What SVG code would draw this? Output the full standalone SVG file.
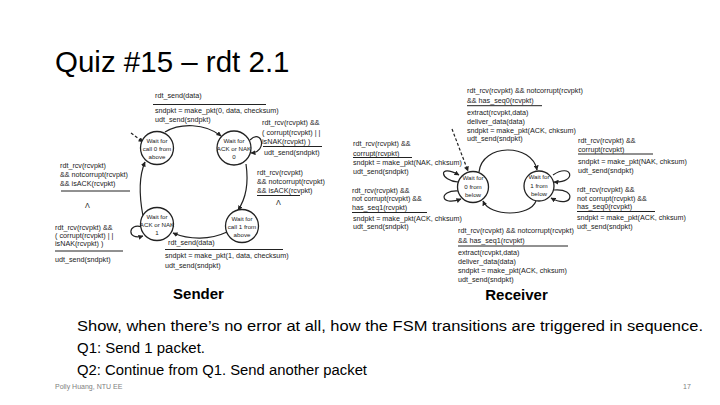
<svg xmlns="http://www.w3.org/2000/svg" width="720" height="405" viewBox="0 0 720 405">
<defs>
<marker id="ah" viewBox="0 0 10 10" refX="9" refY="5" markerWidth="5" markerHeight="5" orient="auto" markerUnits="userSpaceOnUse">
<path d="M0,0 L10,5 L0,10 z" fill="#222"/>
</marker>
</defs>
<style>
.t{font-family:"Liberation Sans",Arial,sans-serif;font-size:7.2px;fill:#1a1a1a}
.s{font-family:"Liberation Sans",Arial,sans-serif;font-size:6.2px;fill:#1a1a1a;text-anchor:middle}
.st{fill:#fff;stroke:#222;stroke-width:1.3}
.e{fill:none;stroke:#222;stroke-width:1.2}
.d{fill:none;stroke:#222;stroke-width:1.2;stroke-dasharray:3,2}
.u{stroke:#222;stroke-width:1}
.h{font-family:"Liberation Sans",Arial,sans-serif;font-weight:bold;font-size:15px;fill:#000;text-anchor:middle}
.b{font-family:"Liberation Sans",Arial,sans-serif;font-size:15.5px;fill:#000}
</style>
<rect width="720" height="405" fill="#fff"/>
<text x="55" y="72" font-family="Liberation Sans,Arial,sans-serif" font-size="29.5" fill="#000">Quiz #15 – rdt 2.1</text>

<g id="connectors">
<!-- sender -->
<path class="d" d="M131 133 L143 142" marker-end="url(#ah)"/>
<path class="e" d="M165 132 C180 123,205 123,221 136" marker-end="url(#ah)"/>
<path class="e" d="M246 164 C249 185,245 200,238 210" marker-end="url(#ah)"/>
<path class="e" d="M227 232 C210 240,190 240,173 233" marker-end="url(#ah)"/>
<path class="e" d="M143 216 C139 195,139 176,145 162" marker-end="url(#ah)"/>
<path class="e" d="M250 140 C262 128,268 152,251 153" marker-end="url(#ah)"/>
<path class="e" d="M142 227 C128 222,126 241,143 236" marker-end="url(#ah)"/>
<!-- receiver -->
<path class="d" d="M452 129 L468 171" marker-end="url(#ah)"/>
<path class="e" d="M479 172 C482 143,532 143,537 170" marker-end="url(#ah)"/>
<path class="e" d="M536 201 C530 217,490 217,483 201" marker-end="url(#ah)"/>
<path class="e" d="M458 182 C440 181,437 163,459 175" marker-end="url(#ah)"/>
<path class="e" d="M458 191 C438 190,440 207,461 199" marker-end="url(#ah)"/>
<path class="e" d="M553 175 C572 162,578 183,554 182" marker-end="url(#ah)"/>
<path class="e" d="M554 190 C578 188,573 210,551 198" marker-end="url(#ah)"/>
</g>

<g id="s-call0">
<circle class="st" cx="157" cy="148" r="16.5"/>
<text class="s" x="157" y="143">Wait for</text>
<text class="s" x="157" y="150.5">call 0 from</text>
<text class="s" x="157" y="158.5">above</text>
</g>
<g id="s-ack0">
<circle class="st" cx="234" cy="148" r="17"/>
<text class="s" x="234" y="143">Wait for</text>
<text class="s" x="234" y="150.5">ACK or NAK</text>
<text class="s" x="234" y="158.5">0</text>
</g>
<g id="s-ack1">
<circle class="st" cx="157" cy="224" r="16.5"/>
<text class="s" x="157" y="219">Wait for</text>
<text class="s" x="157" y="226.5">ACK or NAK</text>
<text class="s" x="157" y="234.5">1</text>
</g>
<g id="s-call1">
<circle class="st" cx="242" cy="226" r="16.5"/>
<text class="s" x="242" y="221">Wait for</text>
<text class="s" x="242" y="228.5">call 1 from</text>
<text class="s" x="242" y="236.5">above</text>
</g>

<g id="s-labels">
<text class="t" x="155" y="97.5">rdt_send(data)</text>
<line class="u" x1="153" y1="104.5" x2="266" y2="104.5"/>
<text class="t" x="155" y="112.5">sndpkt = make_pkt(0, data, checksum)</text>
<text class="t" x="155" y="121.5">udt_send(sndpkt)</text>

<text class="t" x="262" y="125">rdt_rcv(rcvpkt) &amp;&amp;</text>
<text class="t" x="262" y="134.5">( corrupt(rcvpkt) | |</text>
<text class="t" x="262" y="143.5">isNAK(rcvpkt) )</text>
<line class="u" x1="263" y1="146.5" x2="322" y2="146.5"/>
<text class="t" x="264" y="155">udt_send(sndpkt)</text>

<text class="t" x="257" y="174.5">rdt_rcv(rcvpkt)</text>
<text class="t" x="257" y="184">&amp;&amp; notcorrupt(rcvpkt)</text>
<text class="t" x="257" y="192.5">&amp;&amp; isACK(rcvpkt)</text>
<line class="u" x1="257" y1="195.5" x2="300" y2="195.5"/>
<text class="t" x="276" y="205">Λ</text>

<text class="t" x="60" y="167.5">rdt_rcv(rcvpkt)</text>
<text class="t" x="60" y="176.5">&amp;&amp; notcorrupt(rcvpkt)</text>
<text class="t" x="60" y="185.5">&amp;&amp; isACK(rcvpkt)</text>
<line class="u" x1="61" y1="191" x2="130" y2="191"/>
<text class="t" x="85" y="207.5">Λ</text>

<text class="t" x="55" y="229.5">rdt_rcv(rcvpkt) &amp;&amp;</text>
<text class="t" x="55" y="237.5">( corrupt(rcvpkt) | |</text>
<text class="t" x="55" y="246">isNAK(rcvpkt) )</text>
<line class="u" x1="55" y1="251" x2="123" y2="251"/>
<text class="t" x="55" y="261.5">udt_send(sndpkt)</text>

<text class="t" x="168" y="245">rdt_send(data)</text>
<line class="u" x1="165" y1="249.5" x2="283" y2="249.5"/>
<text class="t" x="165" y="258">sndpkt = make_pkt(1, data, checksum)</text>
<text class="t" x="165" y="267.5">udt_send(sndpkt)</text>

<text class="h" x="198.5" y="299">Sender</text>
</g>

<g id="r-wait0">
<circle class="st" cx="473" cy="187" r="15.5"/>
<text class="s" x="473" y="180">Wait for</text>
<text class="s" x="473" y="188.5">0 from</text>
<text class="s" x="473" y="197">below</text>
</g>
<g id="r-wait1">
<circle class="st" cx="539" cy="186" r="15"/>
<text class="s" x="539" y="179">Wait for</text>
<text class="s" x="539" y="187.5">1 from</text>
<text class="s" x="539" y="196">below</text>
</g>

<g id="r-labels">
<text class="t" x="467" y="92.5">rdt_rcv(rcvpkt) &amp;&amp; notcorrupt(rcvpkt)</text>
<text class="t" x="467" y="102.5">&amp;&amp; has_seq0(rcvpkt)</text>
<line class="u" x1="467" y1="105.7" x2="542" y2="105.7"/>
<text class="t" x="467" y="114.8">extract(rcvpkt,data)</text>
<text class="t" x="467" y="123.5">deliver_data(data)</text>
<text class="t" x="467" y="132.5">sndpkt = make_pkt(ACK, chksum)</text>
<text class="t" x="467" y="141">udt_send(sndpkt)</text>

<text class="t" x="353" y="145.8">rdt_rcv(rcvpkt) &amp;&amp;</text>
<text class="t" x="353" y="155.5">corrupt(rcvpkt)</text>
<line class="u" x1="353" y1="157.5" x2="412" y2="157.5"/>
<text class="t" x="353" y="164.8">sndpkt = make_pkt(NAK, chksum)</text>
<text class="t" x="353" y="173.5">udt_send(sndpkt)</text>

<text class="t" x="352" y="192.5">rdt_rcv(rcvpkt) &amp;&amp;</text>
<text class="t" x="352" y="200.8">not corrupt(rcvpkt) &amp;&amp;</text>
<text class="t" x="352" y="209.8">has_seq1(rcvpkt)</text>
<line class="u" x1="352" y1="212.5" x2="427" y2="212.5"/>
<text class="t" x="353" y="220.8">sndpkt = make_pkt(ACK, chksum)</text>
<text class="t" x="353" y="229.2">udt_send(sndpkt)</text>

<text class="t" x="578" y="142.5">rdt_rcv(rcvpkt) &amp;&amp;</text>
<text class="t" x="578" y="152">corrupt(rcvpkt)</text>
<line class="u" x1="578" y1="154" x2="653" y2="154"/>
<text class="t" x="578" y="164.2">sndpkt = make_pkt(NAK, chksum)</text>
<text class="t" x="578" y="172.5">udt_send(sndpkt)</text>

<text class="t" x="577" y="191.8">rdt_rcv(rcvpkt) &amp;&amp;</text>
<text class="t" x="577" y="200.8">not corrupt(rcvpkt) &amp;&amp;</text>
<text class="t" x="577" y="209.2">has_seq0(rcvpkt)</text>
<line class="u" x1="577" y1="211.5" x2="655" y2="211.5"/>
<text class="t" x="577" y="220.2">sndpkt = make_pkt(ACK, chksum)</text>
<text class="t" x="577" y="229.2">udt_send(sndpkt)</text>

<text class="t" x="458" y="233.2">rdt_rcv(rcvpkt) &amp;&amp; notcorrupt(rcvpkt)</text>
<text class="t" x="458" y="243.2">&amp;&amp; has_seq1(rcvpkt)</text>
<line class="u" x1="458" y1="246" x2="568" y2="246"/>
<text class="t" x="458" y="254.8">extract(rcvpkt,data)</text>
<text class="t" x="458" y="263.5">deliver_data(data)</text>
<text class="t" x="458" y="272.5">sndpkt = make_pkt(ACK, chksum)</text>
<text class="t" x="458" y="281.5">udt_send(sndpkt)</text>

<text class="h" x="516.5" y="300">Receiver</text>
</g>

<text class="b" x="77" y="331" textLength="626" lengthAdjust="spacingAndGlyphs">Show, when there’s no error at all, how the FSM transitions are triggered in sequence.</text>
<text class="b" x="77" y="353" textLength="128" lengthAdjust="spacingAndGlyphs">Q1: Send 1 packet.</text>
<text class="b" x="77" y="375" textLength="290" lengthAdjust="spacingAndGlyphs">Q2: Continue from Q1. Send another packet</text>
<text x="55" y="389" font-family="Liberation Sans,Arial,sans-serif" font-size="7" fill="#808080">Polly Huang, NTU EE</text>
<text x="683" y="389" font-family="Liberation Sans,Arial,sans-serif" font-size="7" fill="#808080">17</text>
</svg>
